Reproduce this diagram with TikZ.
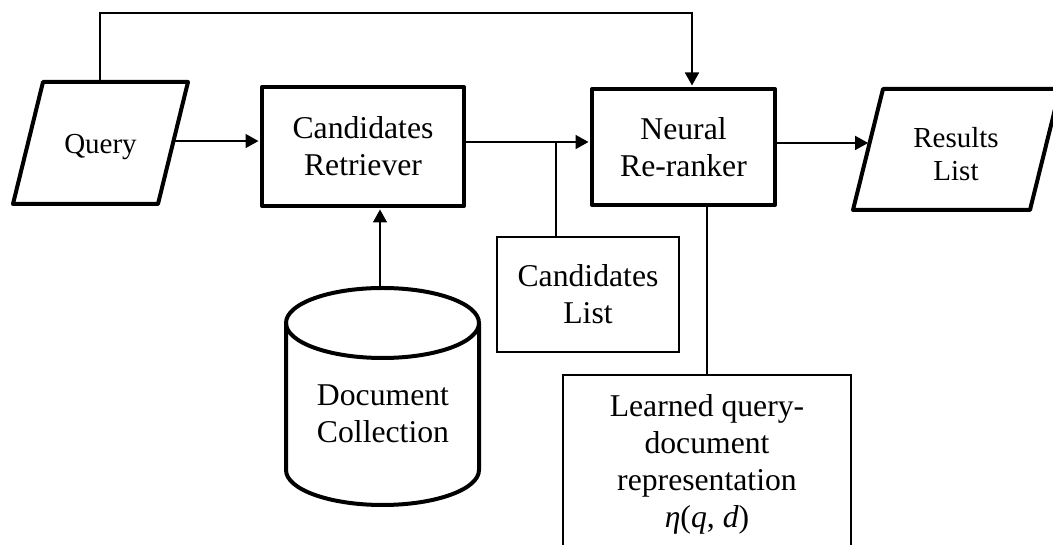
\documentclass[tikz,border=0pt]{standalone}
\usepackage{fontspec}
\setmainfont{Liberation Serif}
\usetikzlibrary{arrows.meta,calc}
\newcommand\mainfs{\fontsize{31.7}{37}\selectfont}
\newcommand\smallfs{\fontsize{29}{33}\selectfont}
\begin{document}
\begin{tikzpicture}[x=1pt,y=1pt,
  proc/.style={draw,line width=4pt,line join=round,align=center,inner sep=0pt,font=\mainfs},
  note/.style={draw,line width=1.3pt,align=center,inner sep=0pt,font=\mainfs},
  heavy/.style={line width=4pt,line join=round},
  conn/.style={line width=1.6pt},
  arr/.style={conn,-{Triangle[length=13pt,width=14pt]},shorten >=1.5pt},
  lbl/.style={align=center,inner sep=0pt}]
\useasboundingbox (0,0) rectangle (1053,545);
% boxes
\node[proc,minimum width=202pt,minimum height=119pt] (ret) at (363,398.5) {Candidates\\Retriever};
\node[proc,minimum width=183pt,minimum height=116pt] (neu) at (683.5,398) {Neural\\Re-ranker};
\node[note,minimum width=182pt,minimum height=115pt] (cl) at (588,250.5) {Candidates\\List};
\node[note,minimum width=288pt,minimum height=178pt] (lr) at (707,81) {Learned query-\\document\\representation\\\textit{η}(\textit{q}, \textit{d})};
% query parallelogram
\coordinate (qtl) at (43,463);
\coordinate (qtr) at (188,463);
\coordinate (qbr) at (158,341);
\coordinate (qbl) at (13,341);
\draw[heavy] (qtl) -- (qtr) -- (qbr) -- (qbl) -- cycle;
\node[lbl,font=\smallfs] (query) at (100.5,398) {Query};
% results parallelogram
\coordinate (rtl) at (883,456);
\coordinate (rtr) at (1060,456);
\coordinate (rbr) at (1030,335);
\coordinate (rbl) at (853,335);
\draw[heavy] (rtl) -- (rtr) -- (rbr) -- (rbl) -- cycle;
\node[lbl,font=\smallfs] (res) at (956,391) {Results\\List};
% cylinder
\draw[heavy] (286,222) -- (286,75) arc[start angle=180,end angle=360,x radius=96.5,y radius=35] -- (479,222);
\draw[heavy] (382.5,222) ellipse[x radius=96.5,y radius=35];
\node[lbl,font=\mainfs] (dc) at (383,131.5) {Document\\Collection};
\coordinate (dctop) at (380,257);
% connector points
\coordinate (qout) at ($(qtr)!0.484!(qbr)$);
\coordinate (qup) at ($(qtl)!0.393!(qtr)$);
\coordinate (rin) at ($(rtl)!0.446!(rbl)$);
\coordinate (j) at (556,403);
% connectors
\draw[arr] (qout) -- (qout -| ret.west);
\draw[arr] (ret.east |- j) -- (neu.west |- j);
\draw[conn] (j) -- (j |- cl.north);
\draw[arr] (neu.east |- rin) -- (rin);
\draw[conn] (lr.north |- neu.south) -- (lr.north);
\draw[arr] (qup) -- ++(0,69) -| ([xshift=8.5pt]neu.north);
\draw[arr] (dctop) -- (dctop |- ret.south);
\end{tikzpicture}
\end{document}
